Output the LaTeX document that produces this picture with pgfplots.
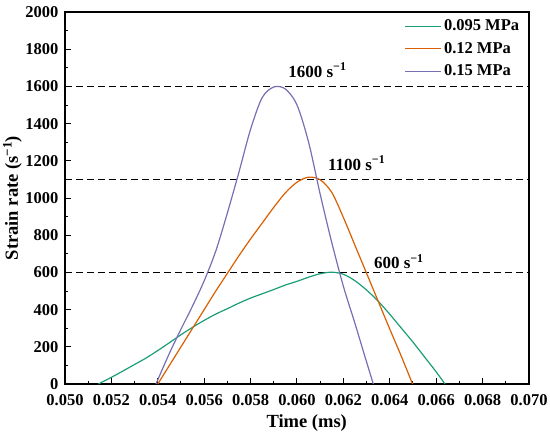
\documentclass[border=0pt]{standalone}
\usepackage{pgfplots}
\pgfplotsset{compat=1.18}
\usepackage{fontspec}
\setmainfont{Liberation Serif}
\definecolor{cgreen}{HTML}{1B9E77}
\definecolor{corange}{HTML}{D95F02}
\definecolor{cpurple}{HTML}{7570B3}
\begin{document}
\begin{tikzpicture}
\begin{axis}[
  scale only axis, width=464pt, height=372pt,
  xmin=0.050, xmax=0.070, ymin=0, ymax=2000,
  xtick={0.050,0.052,0.054,0.056,0.058,0.060,0.062,0.064,0.066,0.068,0.070},
  ytick={0,200,400,600,800,1000,1200,1400,1600,1800,2000},
  minor x tick num=1, minor y tick num=1,
  tick pos=left, tick align=inside,
  major tick length=6pt, minor tick length=3.5pt,
  every tick/.style={black, line width=1pt},
  axis line style={line width=1.2pt},
  scaled x ticks=false, scaled y ticks=false,
  /pgf/number format/assume math mode=true,
  x tick label style={/pgf/number format/fixed, /pgf/number format/fixed zerofill, /pgf/number format/precision=3, yshift=-7pt},
  y tick label style={/pgf/number format/fixed, /pgf/number format/1000 sep={}, xshift=-3pt},
  ticklabel style={font=\bfseries\fontsize{16.5}{19}\selectfont},
  xlabel={Time (ms)}, ylabel={Strain rate (s\textsuperscript{−1})},
  label style={font=\bfseries\fontsize{18.5}{21}\selectfont},
  x label style={at={(axis description cs:0.521,0)}, anchor=center, yshift=-39pt},
  y label style={at={(axis description cs:-0.1131,0.5)}, anchor=center},
  legend style={at={(rel axis cs:0.99,0.99)}, anchor=north east, draw=none, fill=none,
    font=\bfseries\fontsize{16.5}{19}\selectfont, row sep=6pt},
  legend cell align=left,
  legend image code/.code={\draw[#1, line width=1.2pt] (0pt,0pt) -- (36pt,0pt);},
]
\addplot[black, line width=1.5pt, dash pattern=on 7pt off 4pt, forget plot] coordinates {(0.050,1600) (0.070,1600)};
\addplot[black, line width=1.5pt, dash pattern=on 7pt off 4pt, forget plot] coordinates {(0.050,1100) (0.070,1100)};
\addplot[black, line width=1.5pt, dash pattern=on 7pt off 4pt, forget plot] coordinates {(0.050,600) (0.070,600)};

\addplot[cgreen, line width=1.2pt, smooth, tension=0.5] coordinates {
(0.05144,0) (0.0520,36) (0.0525,70) (0.0530,105) (0.0535,140) (0.0540,180)
(0.0545,222) (0.0550,265) (0.0555,305) (0.0560,342) (0.0565,376) (0.0570,405)
(0.0575,435) (0.0580,462) (0.0585,485) (0.0590,508) (0.0595,532) (0.0600,552)
(0.0605,574) (0.0610,593) (0.0615,601) (0.0620,590) (0.0625,555) (0.0630,505)
(0.0635,445) (0.0640,375) (0.0645,300) (0.0650,225) (0.0655,145) (0.0660,65) (0.06638,0)};
\addlegendentry{0.095 MPa}

\addplot[corange, line width=1.2pt, smooth, tension=0.5] coordinates {
(0.0540,0) (0.0545,100) (0.0550,200) (0.0555,300) (0.0560,400) (0.0565,500)
(0.0570,595) (0.0575,690) (0.0580,780) (0.0585,865) (0.0590,950) (0.0595,1028)
(0.0600,1085) (0.0605,1112) (0.0610,1098) (0.0615,1030) (0.0620,895) (0.0625,745)
(0.0630,595) (0.0635,445) (0.0640,295) (0.0645,148) (0.06498,0)};
\addlegendentry{0.12 MPa}

\addplot[cpurple, line width=1.2pt, smooth, tension=0.5] coordinates {
(0.05392,0) (0.0545,165) (0.0550,295) (0.0555,420) (0.0560,555) (0.0565,715)
(0.0570,920) (0.0575,1140) (0.0580,1370) (0.0585,1540) (0.0590,1597)
(0.0595,1586) (0.0600,1500) (0.0605,1300) (0.0610,1020) (0.0615,760) (0.0620,525)
(0.0625,325) (0.0630,118) (0.06329,0)};
\addlegendentry{0.15 MPa}

\node[font=\bfseries\fontsize{17}{20}\selectfont] at (axis cs:0.06088,1688) {1600 s\textsuperscript{−1}};
\node[font=\bfseries\fontsize{17}{20}\selectfont] at (axis cs:0.06257,1188) {1100 s\textsuperscript{−1}};
\node[font=\bfseries\fontsize{17}{20}\selectfont] at (axis cs:0.06439,657) {600 s\textsuperscript{−1}};
\end{axis}
\pgfresetboundingbox
\useasboundingbox (-65pt,-56pt) rectangle (485pt,384pt);
\end{tikzpicture}
\end{document}
